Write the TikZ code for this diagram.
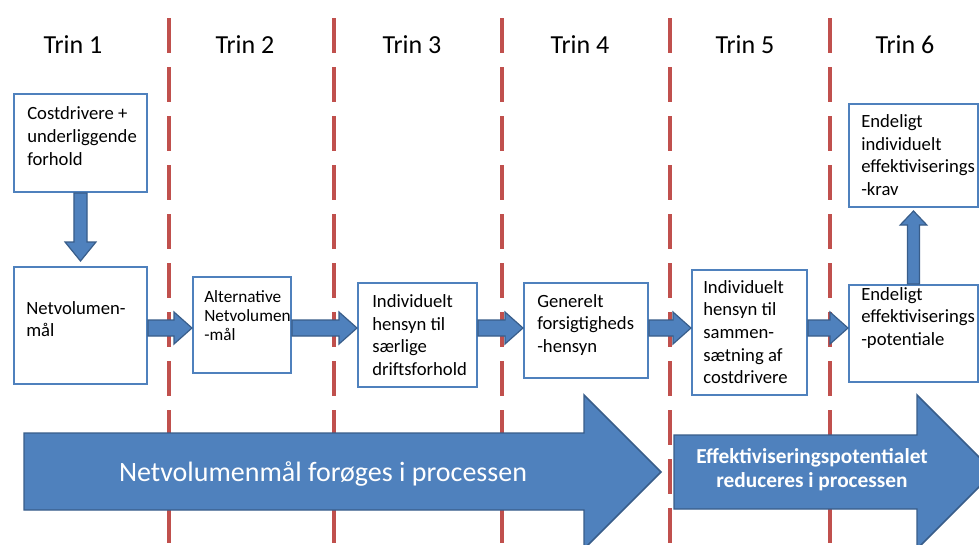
\documentclass[tikz,border=0pt]{standalone}
\usepackage{fontspec}
\setmainfont{Carlito}
\usetikzlibrary{calc}
\definecolor{boxblue}{RGB}{79,129,189}
\definecolor{arrowfill}{RGB}{79,129,189}
\definecolor{arrowedge}{RGB}{56,93,138}
\definecolor{dashred}{RGB}{192,80,77}
\tikzset{
  boxnode/.style 2 args={draw=boxblue, line width=1.5pt, fill=white, inner sep=0pt,
    minimum width={#1*0.75pt}, minimum height={#2*0.75pt}},
  boxtext/.style={anchor=west, align=left, inner sep=0pt, font=\fontsize{14}{17}\selectfont},
  smalltext/.style={boxtext, font=\fontsize{12.9}{14.2}\selectfont},
  trinlabel/.style={anchor=base, inner sep=0pt, font=\fontsize{19.5}{23}\selectfont},
  blockarr/.style={fill=arrowfill, draw=arrowedge, line width=0.9pt, line join=miter},
  bigarr/.style={fill=arrowfill, draw=arrowedge, line width=1.1pt, line join=miter},
  dashline/.style={draw=dashred, line width=2.6pt, dash pattern=on 26.25pt off 10.5pt},
}
\newcommand{\blockarrow}[5]{%
  \path ($(#2)!#5!(#1)$) coordinate (hb);
  \filldraw[blockarr] ($(#1)!#3!90:(#2)$) -- ($(hb)!#3!90:(#2)$) -- ($(hb)!#4!90:(#2)$)
    -- (#2) -- ($(hb)!#4!-90:(#2)$) -- ($(hb)!#3!-90:(#2)$) -- ($(#1)!#3!-90:(#2)$) -- cycle;
}
\begin{document}
\begin{tikzpicture}[x=0.75pt,y=-0.75pt]
\useasboundingbox (0,0) rectangle (979,544);
\fill[white] (0,0) rectangle (979,544);
\clip (0,0) rectangle (979,544);

% dashed separators
\foreach \xx in {169,334,502,670,830} {
  \draw[dashline] (\xx,18) -- (\xx,560);
}

% step labels
\node[trinlabel] (t1) at (73,53) {Trin 1};
\node[trinlabel] (t2) at (245,53) {Trin 2};
\node[trinlabel] (t3) at (412,53) {Trin 3};
\node[trinlabel] (t4) at (580,53) {Trin 4};
\node[trinlabel] (t5) at (745,53) {Trin 5};
\node[trinlabel] (t6) at (905,53) {Trin 6};

% boxes
\node[boxnode={133}{98}]  (A) at (80.5,143) {};
\node[boxnode={133}{117}] (B) at (80.5,325.5) {};
\node[boxnode={98}{96}]   (C) at (242,325) {};
\node[boxnode={119}{104}] (D) at (417.5,335) {};
\node[boxnode={124}{95}]  (E) at (586,330.5) {};
\node[boxnode={115}{125}] (F) at (749.5,332.5) {};
\node[boxnode={129}{97}]  (G) at (913.5,333.5) {};
\node[boxnode={129}{103}] (H) at (913.5,155.5) {};

% box texts
\node[boxtext] (At) at (27,136) {Costdrivere +\\underliggende\\forhold};
\node[boxtext] (Bt) at (26,319) {Netvolumen-\\mål};
\node[smalltext] (Ct) at (204,316) {Alternative\\Netvolumen\\-mål};
\node[boxtext] (Dt) at (372,335) {Individuelt\\hensyn til\\særlige\\driftsforhold};
\node[boxtext] (Et) at (537,325) {Generelt\\forsigtigheds\\-hensyn};
\node[boxtext] (Ft) at (703,332) {Individuelt\\hensyn til\\sammen-\\sætning af\\costdrivere};
\node[boxtext] (Gt) at (861,318) {Endeligt\\effektiviserings\\-potentiale};
\node[boxtext] (Ht) at (861,155) {Endeligt\\individuelt\\effektiviserings\\-krav};

% connector arrows
\coordinate (ay) at (0,328);
\blockarrow{B.east |- ay}{C.west |- ay}{6pt}{12pt}{13.5pt}
\blockarrow{C.east |- ay}{D.west |- ay}{6pt}{12pt}{13.5pt}
\blockarrow{D.east |- ay}{E.west |- ay}{6pt}{12pt}{13.5pt}
\blockarrow{E.east |- ay}{F.west |- ay}{6pt}{12pt}{13.5pt}
\blockarrow{F.east |- ay}{G.west |- ay}{6pt}{12pt}{13.5pt}
\coordinate (Bn) at ([yshift=3.75pt]B.north);
\blockarrow{A.south}{Bn}{4.9pt}{11.6pt}{14.25pt}
\coordinate (Hs) at ([yshift=-2.25pt]H.south);
\blockarrow{G.north}{Hs}{4.5pt}{10pt}{10.5pt}

% big process arrows
\filldraw[bigarr] (24,433) -- (584,433) -- (584,395) -- (661,472) -- (584,549) -- (584,510) -- (24,510) -- cycle;
\filldraw[bigarr] (674,435) -- (917,435) -- (917,395) -- (994,472) -- (917,549) -- (917,509) -- (674,509) -- cycle;
\node[anchor=base, text=white, inner sep=0pt, font=\fontsize{21}{25}\selectfont] (bt1) at (323,481) {Netvolumenmål forøges i processen};
\node[align=center, text=white, inner sep=0pt, font=\fontsize{16}{18}\bfseries\selectfont] (bt2) at (812,470) {Effektiviseringspotentialet\\reduceres i processen};
\end{tikzpicture}
\end{document}
